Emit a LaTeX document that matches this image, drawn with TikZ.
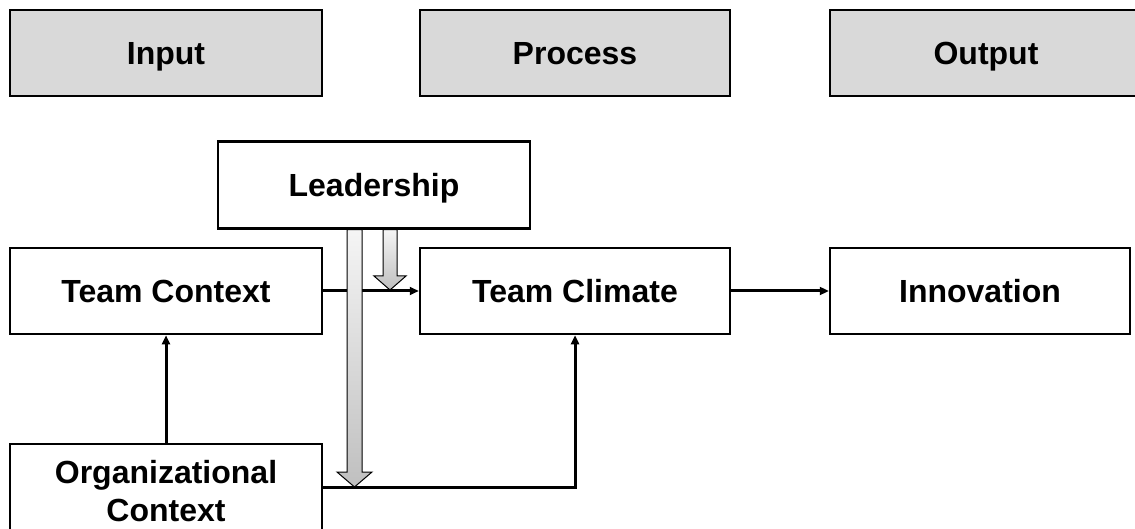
\documentclass[tikz,border=0pt]{standalone}
\usepackage{fontspec}
\setmainfont{Liberation Sans}
\usetikzlibrary{arrows.meta}
\tikzset{
  box/.style={draw=black, line width=2.5pt, fill=white, minimum height=86pt, inner sep=0pt,
    font=\fontsize{32}{38}\selectfont\bfseries, text height=23pt, text depth=0pt},
  twoline/.style={draw=black, line width=2.5pt, fill=white, minimum height=86pt, inner sep=0pt,
    font=\fontsize{32}{38}\selectfont\bfseries, align=center},
  headbox/.style={box, fill=gray!30},
  conn/.style={line width=3pt, -{Triangle[length=9pt,width=8pt]}},
  blockarrow/.style={draw=black, line width=1pt, top color=gray!8, bottom color=gray!50}
}
\begin{document}
\begin{tikzpicture}[x=1pt,y=-1pt]
\clip (0,0) rectangle (1135,529);
\fill[white] (0,0) rectangle (1135,529);
% header boxes
\node[headbox, minimum width=312pt] (input) at (166,53) {Input};
\node[headbox, minimum width=310pt] (process) at (575,53) {Process};
\node[headbox, minimum width=312pt] (output) at (986,53) {Output};
% main boxes
\node[box, minimum width=312pt, minimum height=87pt] (lead) at (374,185) {Leadership};
\node[box, minimum width=312pt] (tc) at (166,291) {Team Context};
\node[box, minimum width=310pt] (clim) at (575,291) {Team Climate};
\node[box, minimum width=300pt] (innov) at (980,291) {Innovation};
\node[twoline, minimum width=312pt] (org) at (166,487) {\rule{0pt}{31pt}Organizational\\Context};
% connectors
\draw[conn] (tc.east) -- (clim.west);
\draw[conn] (clim.east) -- (innov.west);
\draw[conn] (org.north) -- (tc.south);
\draw[conn] (org.east) -| (clim.south);
% block arrows from Leadership
\coordinate (bigtip) at (354.5,487);
\coordinate (smalltip) at (390,290);
\draw[blockarrow] (lead.south -| 347,0) -- (347,472) -- (337,472) -- (bigtip) -- (372,472) -- (362,472) -- (lead.south -| 362,0) -- cycle;
\draw[blockarrow] (lead.south -| 383,0) -- (383,276) -- (374,276) -- (smalltip) -- (406,276) -- (397,276) -- (lead.south -| 397,0) -- cycle;
\end{tikzpicture}
\end{document}
